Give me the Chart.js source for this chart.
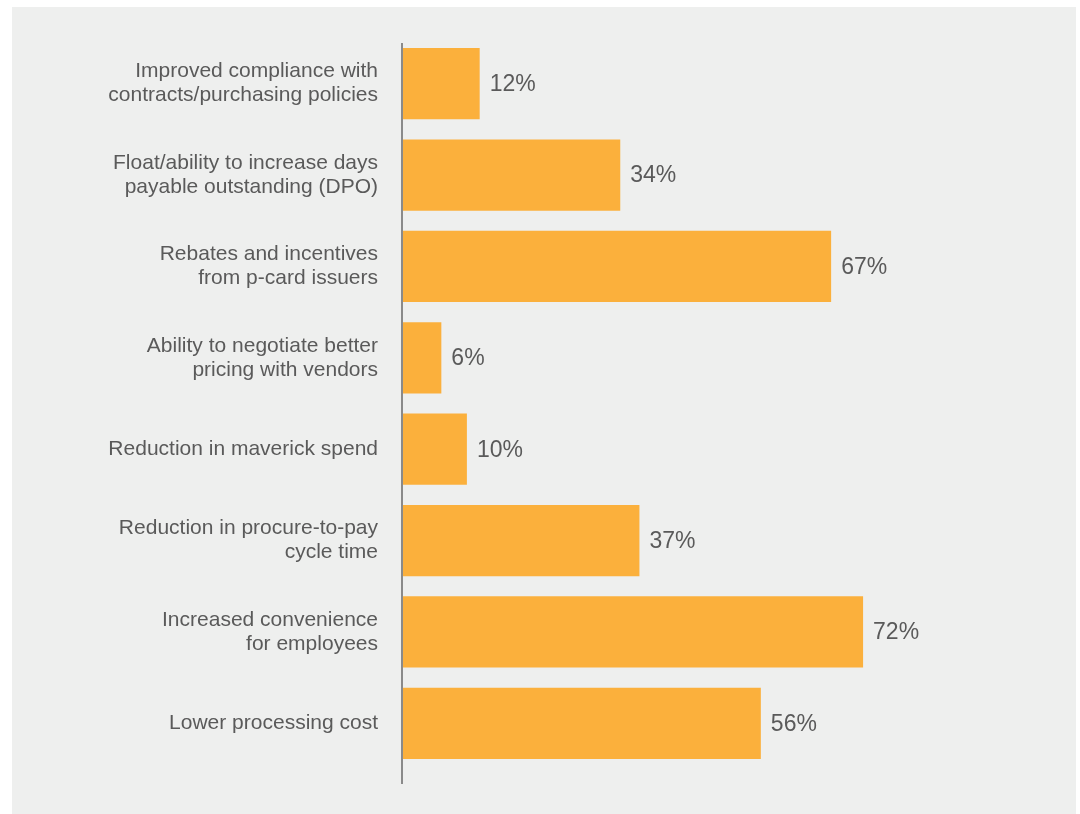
<!DOCTYPE html>
<html>
<head>
<meta charset="utf-8">
<title>P-card benefits</title>
<script src="https://cdn.jsdelivr.net/npm/chart.js@4/dist/chart.umd.min.js"></script>
<style>
  html, body { margin: 0; padding: 0; background: #ffffff; }
  #panel {
    position: absolute;
    left: 12px;
    top: 7px;
    width: 1064px;
    height: 807px;
    background: #eeefee;
  }
  #chart { display: block; }
</style>
</head>
<body>
<div id="panel">
  <canvas id="chart" width="1064" height="807"></canvas>
</div>
<script>
// benefits, top to bottom
const categories = [
  ["Improved compliance with", "contracts/purchasing policies"],
  ["Float/ability to increase days", "payable outstanding (DPO)"],
  ["Rebates and incentives", "from p-card issuers"],
  ["Ability to negotiate better", "pricing with vendors"],
  "Reduction in maverick spend",
  ["Reduction in procure-to-pay", "cycle time"],
  ["Increased convenience", "for employees"],
  "Lower processing cost"
];

// share of respondents, percent
const shares = [12, 34, 67, 6, 10, 37, 72, 56];

const barColor = "#fbb03c";
const textColor = "#5a5a5a";
const axisColor = "#8a8a8a";
const fontFamily = "'Liberation Sans', Arial, sans-serif";

// vertical baseline at zero, runs a little past the plot area
const baseline = {
  id: "baseline",
  afterDatasetsDraw(chart) {
    const { ctx, chartArea, scales } = chart;
    const x = scales.x.getPixelForValue(0) - 1;
    ctx.save();
    ctx.strokeStyle = axisColor;
    ctx.lineWidth = 2;
    ctx.beginPath();
    ctx.moveTo(x, chartArea.top + 5);
    ctx.lineTo(x, chartArea.bottom + 15);
    ctx.stroke();
    ctx.restore();
  }
};

// percent labels at the end of each bar
const valueLabels = {
  id: "valueLabels",
  afterDatasetsDraw(chart) {
    const { ctx } = chart;
    const meta = chart.getDatasetMeta(0);
    ctx.save();
    ctx.font = "23px " + fontFamily;
    ctx.fillStyle = textColor;
    ctx.textAlign = "left";
    ctx.textBaseline = "middle";
    meta.data.forEach((bar, i) => {
      ctx.fillText(shares[i] + "%", bar.x + 10, bar.y + 1);
    });
    ctx.restore();
  }
};

new Chart(document.getElementById("chart"), {
  type: "bar",
  data: {
    labels: categories,
    datasets: [{
      data: shares,
      backgroundColor: barColor,
      borderWidth: 0,
      categoryPercentage: 1,
      barPercentage: 0.78
    }]
  },
  options: {
    indexAxis: "y",
    responsive: false,
    animation: false,
    events: [],
    layout: {
      padding: { top: 31, bottom: 45, right: 34, left: 0 }
    },
    plugins: {
      legend: { display: false },
      tooltip: { enabled: false }
    },
    scales: {
      x: {
        display: false,
        min: 0,
        max: 100
      },
      y: {
        afterFit(scale) {
          scale.width = 391;
          // the two-line labels fit inside their bands, no extra room needed
          scale.paddingTop = 0;
          scale.paddingBottom = 0;
        },
        grid: { display: false, drawTicks: false },
        border: { display: false },
        ticks: {
          padding: 25,
          color: textColor,
          font: { family: fontFamily, size: 21, lineHeight: 1.143 }
        }
      }
    }
  },
  plugins: [baseline, valueLabels]
});
</script>
</body>
</html>
